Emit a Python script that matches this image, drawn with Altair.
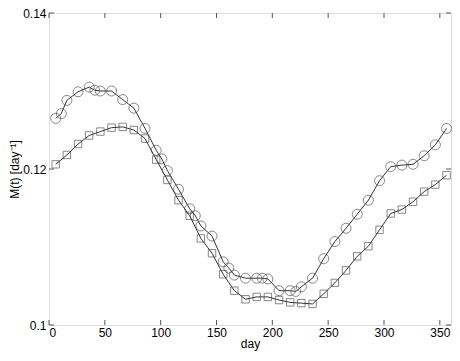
import altair as alt
import pandas as pd

circle_day = [6, 11, 16, 26, 36, 41, 46, 56, 66, 76, 86, 96, 101, 106, 116, 126, 131, 136, 146,
              156, 161, 166, 176, 186, 191, 196, 206, 216, 221, 226, 236, 246, 256, 266, 276,
              286, 296, 306, 316, 326, 336, 346, 356]
circle_m = [0.1265, 0.1271, 0.1288, 0.1299, 0.1305, 0.1301, 0.1300, 0.1300, 0.1289, 0.1278,
            0.1252, 0.1224, 0.1213, 0.1198, 0.1174, 0.1149, 0.1140, 0.1127, 0.1114,
            0.1081, 0.1073, 0.1064, 0.1060, 0.1060, 0.1060, 0.1059, 0.1044, 0.1044, 0.1043,
            0.1049, 0.1060, 0.1085, 0.1107, 0.1124, 0.1142, 0.1160, 0.1185, 0.1203, 0.1205,
            0.1206, 0.1217, 0.1231, 0.1252]

square_day = [6, 16, 26, 36, 46, 56, 66, 76, 86, 96, 106, 116, 126, 136, 146, 156, 166, 176,
              186, 196, 206, 216, 226, 236, 246, 256, 266, 276, 286, 296, 306, 316, 326, 336,
              346, 356]
square_m = [0.1206, 0.1218, 0.1232, 0.1243, 0.1248, 0.1253, 0.1254, 0.1250, 0.1239, 0.1212,
            0.1186, 0.1160, 0.1140, 0.1111, 0.1092, 0.1065, 0.1044, 0.1033,
            0.1036, 0.1036, 0.1032, 0.1029, 0.1028, 0.1027, 0.1040, 0.1054, 0.1070, 0.1088,
            0.1101, 0.1122, 0.1143, 0.1148, 0.1158, 0.1171, 0.1180, 0.1192]

x_ticks = [0, 50, 100, 150, 200, 250, 300, 350]
y_ticks = [0.1, 0.12, 0.14]

W, H = 402, 312
FONT = "Liberation Sans"
FRAME = "#555555"

circ = pd.DataFrame({"day": circle_day, "m": circle_m})
sq = pd.DataFrame({"day": square_day, "m": square_m})

xs = alt.Scale(domain=[0, 360], nice=False, zero=False)
ys = alt.Scale(domain=[0.1, 0.14], nice=False, zero=False)

xaxis = alt.Axis(values=x_ticks, title="day", ticks=False, domain=False, grid=False,
                 labelFont=FONT, labelFontSize=12, labelColor="black", labelPadding=2,
                 titleFont=FONT, titleFontSize=12, titleFontWeight="normal", titleColor="black",
                 titlePadding=0)
yaxis = alt.Axis(values=y_ticks, title="M(t) [day⁻¹]", ticks=False, domain=False, grid=False,
                 labelFont=FONT, labelFontSize=12, labelColor="black", labelPadding=3,
                 labelExpr="datum.value == 0.1 ? '0.1' : format(datum.value, '.2f')",
                 titleFont=FONT, titleFontSize=12, titleFontWeight="normal", titleColor="black",
                 titleX=-35, titleY=H / 2, titleBaseline="middle", titleAngle=270)

line_c = alt.Chart(circ).mark_line(color="black", strokeWidth=0.8).encode(
    x=alt.X("day:Q", scale=xs, axis=xaxis), y=alt.Y("m:Q", scale=ys, axis=yaxis))
pts_c = alt.Chart(circ).mark_point(shape="circle", filled=False, color="#444444", size=100,
                                   strokeWidth=0.9).encode(
    x=alt.X("day:Q", scale=xs), y=alt.Y("m:Q", scale=ys))
line_s = alt.Chart(sq).mark_line(color="black", strokeWidth=0.8).encode(
    x=alt.X("day:Q", scale=xs), y=alt.Y("m:Q", scale=ys))
pts_s = alt.Chart(sq).mark_point(shape="square", filled=False, color="#444444", size=55,
                                 strokeWidth=0.9).encode(
    x=alt.X("day:Q", scale=xs), y=alt.Y("m:Q", scale=ys))

xt = pd.DataFrame({"t": x_ticks})
yt = pd.DataFrame({"t": y_ticks})
tick_len = 5
xt_bot = alt.Chart(xt).mark_rule(color=FRAME, strokeWidth=1).encode(
    x=alt.X("t:Q", scale=xs), y=alt.value(H), y2=alt.value(H - tick_len))
xt_top = alt.Chart(xt).mark_rule(color=FRAME, strokeWidth=1).encode(
    x=alt.X("t:Q", scale=xs), y=alt.value(0), y2=alt.value(tick_len))
yt_left = alt.Chart(yt).mark_rule(color=FRAME, strokeWidth=1).encode(
    y=alt.Y("t:Q", scale=ys), x=alt.value(0), x2=alt.value(tick_len))
yt_right = alt.Chart(yt).mark_rule(color=FRAME, strokeWidth=1).encode(
    y=alt.Y("t:Q", scale=ys), x=alt.value(W), x2=alt.value(W - tick_len))

chart = alt.layer(line_c, line_s, pts_c, pts_s, xt_bot, xt_top, yt_left, yt_right).properties(
    width=W, height=H,
    autosize=alt.AutoSizeParams(type="none"),
    padding={"left": 41, "top": 5, "right": 1, "bottom": 28},
).configure_view(stroke=FRAME, strokeWidth=1.5).configure(background="white")

chart.save("out.html", embed_options={"renderer": "svg", "actions": False})
